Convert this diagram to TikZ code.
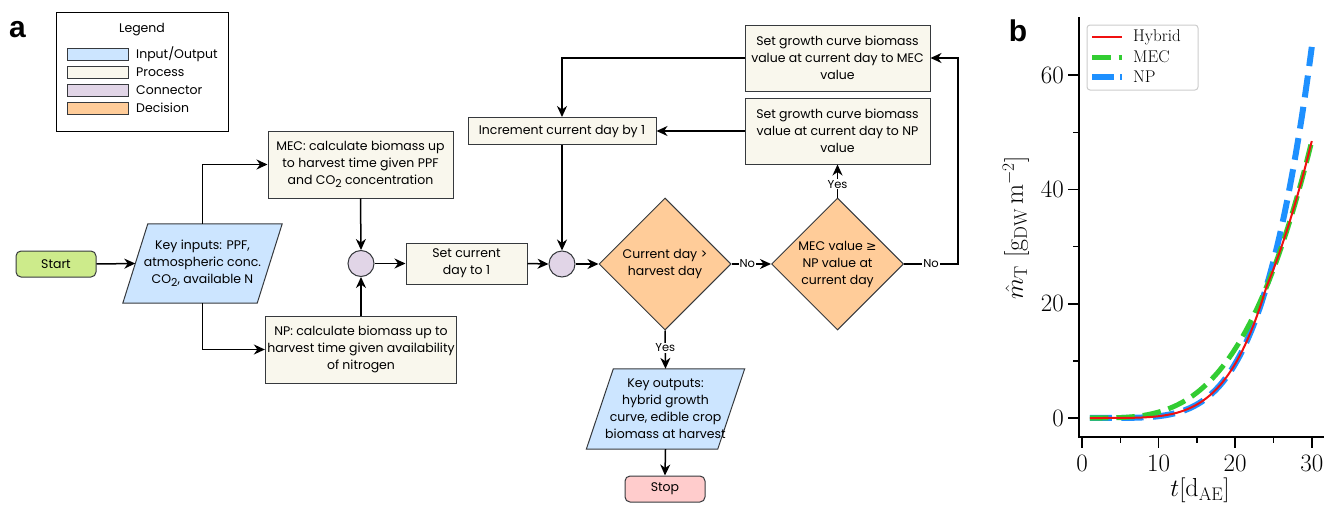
\documentclass[tikz,border=0pt]{standalone}
\usepackage{fontspec}
\newfontfamily\flow{Poppins}
\newfontfamily\djv{DejaVu Sans}
\newfontfamily\panelfont{Liberation Sans}
\usetikzlibrary{arrows.meta,shapes.geometric,calc,backgrounds}
\definecolor{iofill}{HTML}{CCE5FF}
\definecolor{procfill}{HTML}{F9F7ED}
\definecolor{connfill}{HTML}{E1D5E7}
\definecolor{decfill}{HTML}{FFCC99}
\definecolor{startfill}{HTML}{CDEB8B}
\definecolor{stopfill}{HTML}{FFCCCC}
\definecolor{edge}{HTML}{36393D}
\definecolor{mplred}{HTML}{F01010}
\definecolor{mplgreen}{HTML}{32CD32}
\definecolor{mplblue}{HTML}{1E90FF}
\newcommand\cotwo{CO\raisebox{-0.4ex}{\fontsize{11}{11}\selectfont 2}}
\begin{document}
\begin{tikzpicture}[x=1pt,y=-1pt,
  ftxt/.style={font=\flow\fontsize{12.5}{17}\selectfont, align=center, text=black},
  proc/.style={ftxt, rectangle, draw=edge, fill=procfill, line width=1pt, inner sep=2pt},
  iotxt/.style={ftxt, rectangle, inner sep=0pt},
  iopath/.style={draw=edge, fill=iofill, line width=1pt},
  conn/.style={circle, draw=edge, fill=connfill, line width=1pt, minimum size=26pt, inner sep=0pt},
  dec/.style={ftxt, diamond, draw=edge, fill=decfill, line width=1pt, minimum width=132pt, minimum height=132pt, inner sep=0pt},
  term/.style={ftxt, rectangle, rounded corners=5pt, draw=edge, line width=1pt, minimum width=80pt, minimum height=26pt, inner sep=0pt},
  arr/.style={-{Stealth[length=11pt,width=10pt,inset=3.5pt]}, line width=1.5pt, black},
  lbl/.style={font=\flow\fontsize{11.5}{13}\selectfont, fill=white, inner sep=1pt},
  swatch/.style={rectangle, draw=edge, line width=1pt, minimum width=61pt, minimum height=12pt, inner sep=0pt},
  legtxt/.style={font=\flow\fontsize{12.5}{14}\selectfont, anchor=west, inner sep=0pt},
  tick/.style={line width=1.6pt, black},
  ticklbl/.style={font=\fontsize{25}{28}\selectfont, inner sep=0pt},
  axlbl/.style={font=\fontsize{26}{30}\selectfont, inner sep=0pt},
  pleg/.style={font=\fontsize{17}{20}\selectfont, anchor=west, inner sep=0pt},
  panel/.style={font=\panelfont\bfseries\fontsize{30}{30}\selectfont, inner sep=0pt}
  ]
\useasboundingbox (0,0) rectangle (1334,506);

% panel labels
\node[panel] (pa) at (17.5,30) {a};
\node[panel] (pb) at (1018,31) {b};

% legend
\node[rectangle, draw=black, line width=1pt, minimum width=172pt, minimum height=119pt] (legend) at (142,71.5) {};
\node[font=\flow\fontsize{12.5}{14}\selectfont, inner sep=0pt] (legtitle) at (142,30) {Legend};
\node[swatch, fill=iofill] (sw1) at (97.5,54) {};
\node[swatch, fill=procfill] (sw2) at (97.5,72) {};
\node[swatch, fill=connfill] (sw3) at (97.5,90) {};
\node[swatch, fill=decfill] (sw4) at (97.5,108) {};
\node[legtxt] (lt1) at (136,54) {Input/Output};
\node[legtxt] (lt2) at (136,72) {Process};
\node[legtxt] (lt3) at (136,90) {Connector};
\node[legtxt] (lt4) at (136,108) {Decision};

% flowchart nodes
\node[term, fill=startfill] (start) at (56,264) {Start};
\node[iotxt, minimum width=134pt, minimum height=79pt] (in) at (202.5,263.5) {Key inputs: PPF,\\atmospheric conc.\\\cotwo, available N};
\node[proc, minimum width=185pt, minimum height=67pt] (mec) at (360.5,164.5) {MEC: calculate biomass up\\to harvest time given PPF\\and \cotwo{} concentration};
\node[proc, minimum width=186pt, minimum height=67pt] (np) at (361,349.5) {NP: calculate biomass up to\\harvest time given availability\\of nitrogen};
\node[conn] (c1) at (361,263.5) {};
\node[proc, minimum width=121pt, minimum height=41pt] (set1) at (466.5,263.5) {Set current\\day to 1};
\node[conn] (c2) at (562,264) {};
\node[dec] (d1) at (665,264) {Current day >\\harvest day};
\node[dec] (d2) at (837.5,264) {MEC value {\djv ≥}\\NP value at\\current day};
\node[proc, minimum width=185pt, minimum height=66pt] (npset) at (837.5,131) {Set growth curve biomass\\value at current day to NP\\value};
\node[proc, minimum width=185pt, minimum height=66pt] (mecset) at (837.5,58) {Set growth curve biomass\\value at current day to MEC\\value};
\node[proc, minimum width=188pt, minimum height=27pt] (incr) at (562,131) {Increment current day by 1};
\node[iotxt, minimum width=131pt, minimum height=80pt] (out) at (665.5,409) {Key outputs:\\hybrid growth\\curve, edible crop\\biomass at harvest};
\node[term, fill=stopfill] (stop) at (665,489) {Stop};

\begin{scope}[on background layer]
\draw[iopath] ($(in.north west)+(12.5,0)$) -- ($(in.north east)+(12.5,0)$) -- ($(in.south east)+(-12.5,0)$) -- ($(in.south west)+(-12.5,0)$) -- cycle;
\draw[iopath] ($(out.north west)+(13.5,0)$) -- ($(out.north east)+(13.5,0)$) -- ($(out.south east)+(-13.5,0)$) -- ($(out.south west)+(-13.5,0)$) -- cycle;
\end{scope}

% connectors
\draw[arr] (start.east) -- (in.west);
\draw[arr] (in.north) |- (mec.west);
\draw[arr] (in.south) |- (np.west);
\draw[arr] (mec.south) -- (c1.north);
\draw[arr] (np.north) -- (c1.south);
\draw[arr] (c1.east) -- (set1.west);
\draw[arr] (set1.east) -- (c2.west);
\draw[arr] (c2.east) -- (d1.west);
\draw[arr] (d1.east) -- node[lbl, pos=0.4] {No} (d2.west);
\draw[arr] (d2.north) -- node[lbl, pos=0.4] {Yes} (npset.south);
\draw[arr] (d2.east) -- node[lbl, pos=0.5] {No} ++(54,0) |- (mecset.east);
\draw[arr] (mecset.west) -| (incr.north);
\draw[arr] (npset.west) -- (incr.east);
\draw[arr] (incr.south) -- (c2.north);
\draw[arr] (d1.south) -- node[lbl, pos=0.45] {Yes} (out.north);
\draw[arr] (out.south) -- (stop.north);

% plot b
\begin{scope}[shift={(1082,418)}, x=7.66pt, y=5.714pt]
  \draw[mplblue, line width=6pt, dash pattern=on 22pt off 9.6pt] plot[domain=1.02:30, samples=90] (\x, {65*((\x-1)/29)^4.55});
  \draw[mplgreen, line width=5pt, dash pattern=on 18.5pt off 8pt] plot[domain=1.02:30, samples=90] (\x, {48.5*((\x-1)/29)^3.28});
  \draw[mplred, line width=2pt] plot[domain=1.02:30, samples=120] (\x, {min(65*((\x-1)/29)^4.55, 48.5*((\x-1)/29)^3.28)});
  \draw[line width=2pt, line cap=rect] (-0.39,70) -- (-0.39,-3.33) -- (31.46,-3.33);
  \foreach \v in {0,20,40,60} {
    \draw[tick] (-0.39,\v) -- ++(-11pt,0);
    \node[ticklbl, anchor=east, xshift=-15pt] (yl\v) at (-0.39,\v) {\v};
  }
  \foreach \v in {10,30,50} \draw[tick] (-0.39,\v) -- ++(-6pt,0);
  \foreach \t in {0,10,20,30} {
    \draw[tick] (\t,-3.33) -- ++(0,-11pt);
    \node[ticklbl, anchor=north, yshift=-18pt] (xl\t) at (\t,-3.33) {\t};
  }
  \foreach \t in {5,15,25} \draw[tick] (\t,-3.33) -- ++(0,-6pt);
\end{scope}
\node[axlbl] (xlab) at (1200,490) {$t[\mathrm{d}_{\mathrm{AE}}]$};
\node[axlbl, rotate=90] (ylab) at (1016,228) {$\hat{m}_{\mathrm{T}}\ [\mathrm{g}_{\mathrm{DW}}\,\mathrm{m}^{-2}]$};

% plot legend
\node[rectangle, draw=black!20, line width=1pt, rounded corners=3pt, fill=white, minimum width=111pt, minimum height=65pt] (plegbox) at (1142.5,57.5) {};
\coordinate (s1a) at (1092,37); \coordinate (s1b) at (1122,37);
\coordinate (s2a) at (1092,57); \coordinate (s2b) at (1122,57);
\coordinate (s3a) at (1092,77); \coordinate (s3b) at (1122,77);
\draw[mplred, line width=2pt] (s1a) -- (s1b);
\draw[mplgreen, line width=5pt, dash pattern=on 18.5pt off 8pt] (s2a) -- (s2b);
\draw[mplblue, line width=6pt, dash pattern=on 22pt off 6pt] (s3a) -- (s3b);
\node[pleg] (pl1) at (1133,37) {Hybrid};
\node[pleg] (pl2) at (1133,57) {MEC};
\node[pleg] (pl3) at (1133,77) {NP};
\end{tikzpicture}
\end{document}
